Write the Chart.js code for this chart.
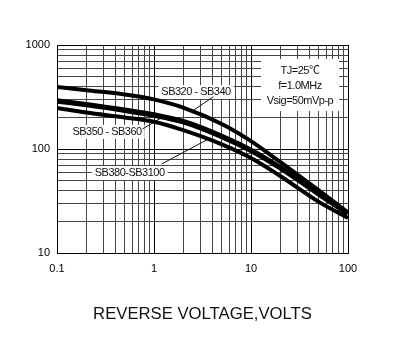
<!DOCTYPE html>
<html>
<head>
<meta charset="utf-8">
<script src="https://cdn.jsdelivr.net/npm/chart.js@4.4.0/dist/chart.umd.min.js"></script>
<style>
  html, body { margin: 0; background: #fff; }
  #wrap { width: 403px; height: 353px; }
</style>
</head>
<body>
<div id="wrap"><canvas id="myChart"></canvas></div>
<script>
// reverse voltage (V)
const voltage = [0.1, 0.2, 0.5, 1, 2, 5, 10, 20, 50, 100];
// capacitance (pF) per part group
const sb320 = [395, 368, 335, 300, 250, 174, 119, 75, 40, 24.5];
const sb350 = [290, 267, 236, 212, 183, 132, 97, 66, 37, 24];
const sb380 = [248, 224, 201, 183, 152, 111, 82, 55, 31, 21.7];

const xLabels = [0.1, 1, 10, 100];
const yLabels = [10, 100, 1000];
const steps = [1, 2, 3, 4, 5, 6, 7, 8, 9];

const gridOf = (decades, top) => {
  const out = [];
  decades.forEach(d => steps.forEach(m => out.push(Number((d * m).toPrecision(3)))));
  out.push(top);
  return out;
};
const xGrid = gridOf([0.1, 1, 10], 100);
const yGrid = gridOf([10, 100], 1000);

const pts = arr => voltage.map((v, i) => ({ x: v, y: arr[i] }));

const FONT = '"Liberation Sans", Arial, "Noto Sans CJK SC", sans-serif';

// callouts, in data units
const callouts = [
  { text: 'SB320 - SB340', x: 2.71, y: 353, line: [2.55, 236, 4.1, 318] },
  { text: 'SB350 - SB360', x: 0.328, y: 146, line: [0.764, 156, 1.23, 203] },
  { text: 'SB380-SB3100', x: 0.561, y: 58.7, line: [1.2, 71.8, 3.59, 124] }
];
const conditions = ['TJ=25\u2103', 'f=1.0MHz', 'Vsig=50mVp-p'];

const notes = {
  id: 'notes',
  beforeDatasetsDraw(chart) {
    const { ctx, scales: { x, y } } = chart;
    ctx.save();
    ctx.font = '11px ' + FONT;
    ctx.letterSpacing = '-0.5px';
    ctx.textAlign = 'center';
    ctx.textBaseline = 'middle';

    // conditions box
    const cx = x.getPixelForValue(32), cy = y.getPixelForValue(403);
    ctx.fillStyle = '#fff';
    ctx.fillRect(cx - 39, cy - 27, 78, 52);
    ctx.fillStyle = '#111';
    conditions.forEach((t, i) => ctx.fillText(t, cx, cy + (i - 1) * 15));

    callouts.forEach(c => {
      const px = x.getPixelForValue(c.x), py = y.getPixelForValue(c.y);
      const w = ctx.measureText(c.text).width;
      ctx.fillStyle = '#fff';
      ctx.fillRect(px - w / 2 - 3, py - 7, w + 6, 14);
      ctx.fillStyle = '#111';
      ctx.fillText(c.text, px, py);
      ctx.strokeStyle = '#111';
      ctx.lineWidth = 1;
      ctx.beginPath();
      ctx.moveTo(x.getPixelForValue(c.line[0]), y.getPixelForValue(c.line[1]));
      ctx.lineTo(x.getPixelForValue(c.line[2]), y.getPixelForValue(c.line[3]));
      ctx.stroke();
    });
    ctx.restore();
  }
};

const gridColor = labels => c => (c.tick && labels.includes(c.tick.value)) ? '#000' : '#444';

new Chart(document.getElementById('myChart'), {
  type: 'line',
  data: {
    datasets: [
      { label: 'SB320 - SB340', data: pts(sb320), borderWidth: 4 },
      { label: 'SB350 - SB360', data: pts(sb350), borderWidth: 5.5 },
      { label: 'SB380-SB3100', data: pts(sb380), borderWidth: 4 }
    ].map(d => Object.assign(d, { borderColor: '#000', pointRadius: 0, cubicInterpolationMode: 'monotone', fill: false }))
  },
  options: {
    responsive: true,
    maintainAspectRatio: false,
    animation: false,
    layout: { padding: { left: 0, right: 55, top: 45, bottom: 25 } },
    plugins: { legend: { display: false }, tooltip: { enabled: false } },
    scales: {
      x: {
        type: 'logarithmic',
        min: 0.1,
        max: 100,
        afterBuildTicks: s => { s.ticks = xGrid.map(v => ({ value: v, major: false })); },
        afterFit: s => { s.height = 75; },
        ticks: {
          autoSkip: false,
          maxRotation: 0,
          padding: 9,
          color: '#000',
          font: { family: FONT, size: 11 },
          callback: v => xLabels.includes(v) ? String(v) : ''
        },
        grid: { color: gridColor(xLabels), lineWidth: 1, drawTicks: false },
        border: { color: '#000', width: 1 },
        title: {
          display: true,
          text: 'REVERSE VOLTAGE,VOLTS',
          color: '#111',
          font: { family: FONT, size: 16.7 },
          padding: { top: 0, bottom: 4 }
        }
      },
      y: {
        type: 'logarithmic',
        min: 10,
        max: 1000,
        afterBuildTicks: s => { s.ticks = yGrid.map(v => ({ value: v, major: false })); },
        afterFit: s => { s.width = 57; },
        ticks: {
          autoSkip: false,
          padding: 7,
          color: '#000',
          font: { family: FONT, size: 11 },
          callback: v => yLabels.includes(v) ? String(v) : ''
        },
        grid: { color: gridColor(yLabels), lineWidth: 1, drawTicks: false },
        border: { color: '#000', width: 1 }
      }
    }
  },
  plugins: [notes]
});
</script>
</body>
</html>
